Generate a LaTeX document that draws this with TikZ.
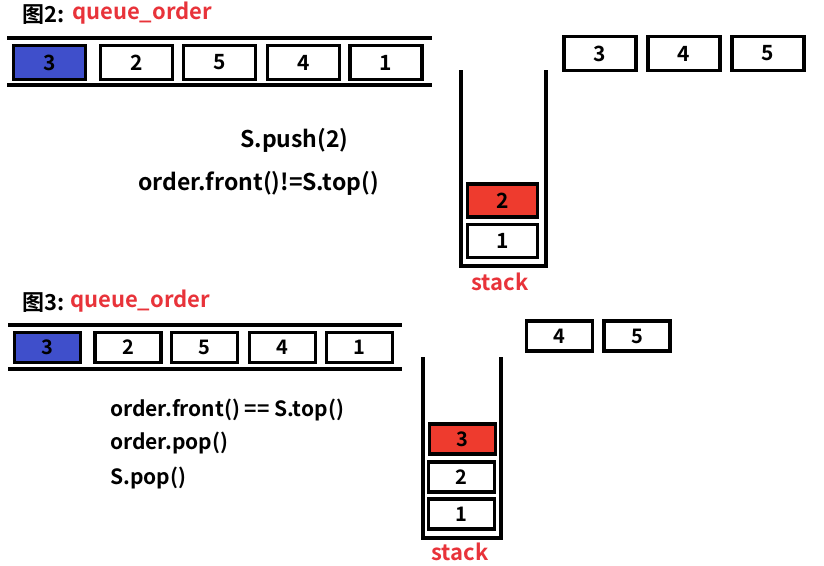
\documentclass[tikz,border=0pt]{standalone}
\usepackage{fontspec}
\setmainfont{Noto Sans CJK SC}[BoldFont={Noto Sans CJK SC Bold}]
\definecolor{qblue}{HTML}{3F4FCB}
\definecolor{sred}{HTML}{EE3B2E}
\definecolor{tred}{HTML}{E8333A}
\tikzset{
  cell/.style={draw=black, line width=3.2pt, fill=white, inner sep=0pt, font=\bfseries\fontsize{21}{21}\selectfont},
  cellA/.style={cell, minimum width=72pt, minimum height=34pt},
  cellB/.style={cell, minimum width=66pt, minimum height=30pt, font=\bfseries\fontsize{20}{20}\selectfont},
  wall/.style={line width=3.2pt, line cap=butt, line join=miter},
  code/.style={font=\bfseries\fontsize{21}{21}\selectfont, inner sep=0pt, anchor=west},
  codeA/.style={code, font=\bfseries\fontsize{23}{23}\selectfont},
  ttl/.style={font=\bfseries\fontsize{22}{22}\selectfont, inner sep=0pt, anchor=west},
  red/.style={text=tred}
}
\begin{document}
\begin{tikzpicture}[x=1pt,y=-1pt]
\useasboundingbox (0,0) rectangle (824,565);
% ---------- Figure 2 ----------
\node[ttl] (t2) at (22,15) {图2:};
\node[ttl, red] (q2) at (72,13) {queue\_order};
\coordinate (l2a) at (7,38); \coordinate (l2b) at (432,38);
\coordinate (l2c) at (7,85); \coordinate (l2d) at (432,85);
\draw[wall] (l2a) -- (l2b);
\draw[wall] (l2c) -- (l2d);
\node[cellA, fill=qblue] (a1) at (49.5,62.5) {3};
\node[cellA] (a2) at (136.5,62.5) {2};
\node[cellA] (a3) at (219.5,62.5) {5};
\node[cellA] (a4) at (303.5,62.5) {4};
\node[cellA] (a5) at (386,62.5) {1};
% stack 2
\coordinate (s2a) at (461,70); \coordinate (s2b) at (461,266);
\coordinate (s2c) at (546,266); \coordinate (s2d) at (546,70);
\draw[wall] (s2a) -- (s2b) -- (s2c) -- (s2d);
\node[cellA, minimum width=70pt, minimum height=33pt] (b1) at (502.5,241) {1};
\node[cellA, minimum width=70pt, minimum height=33pt, fill=sred] (b2) at (502.5,200.5) {2};
\node[ttl, red, anchor=center] (st2) at (500,282) {stack};
% remaining input
\node[cellA] (c3) at (600,53.5) {3};
\node[cellA] (c4) at (684,53.5) {4};
\node[cellA] (c5) at (768,53.5) {5};
% code
\node[codeA] (p1) at (240,140) {S.push(2)};
\node[codeA] (p2) at (138,183) {order.front()!=S.top()};
% ---------- Figure 3 ----------
\node[ttl] (t3) at (22,303) {图3:};
\node[ttl, red] (q3) at (70,301) {queue\_order};
\coordinate (l3a) at (8,325); \coordinate (l3b) at (402,325);
\coordinate (l3c) at (8,369); \coordinate (l3d) at (402,369);
\draw[wall] (l3a) -- (l3b);
\draw[wall] (l3c) -- (l3d);
\node[cellB, fill=qblue] (d1) at (47.5,347.5) {3};
\node[cellB] (d2) at (128,347.5) {2};
\node[cellB] (d3) at (204.5,347.5) {5};
\node[cellB] (d4) at (282.5,347.5) {4};
\node[cellB] (d5) at (359.5,347.5) {1};
% stack 3
\coordinate (s3a) at (423,357); \coordinate (s3b) at (423,538);
\coordinate (s3c) at (501,538); \coordinate (s3d) at (501,357);
\draw[wall] (s3a) -- (s3b) -- (s3c) -- (s3d);
\node[cellB, minimum width=66pt] (e1) at (461.5,514) {1};
\node[cellB, minimum width=66pt] (e2) at (461.5,477) {2};
\node[cellB, minimum width=66pt, fill=sred] (e3) at (462.5,439) {3};
\node[ttl, red, anchor=center] (st3) at (460,552) {stack};
% remaining input
\node[cellB] (f4) at (559.5,336) {4};
\node[cellB] (f5) at (637,336) {5};
% code
\node[code] (r1) at (110,410) {order.front() == S.top()};
\node[code] (r2) at (110,443) {order.pop()};
\node[code] (r3) at (110,478) {S.pop()};
\end{tikzpicture}
\end{document}
